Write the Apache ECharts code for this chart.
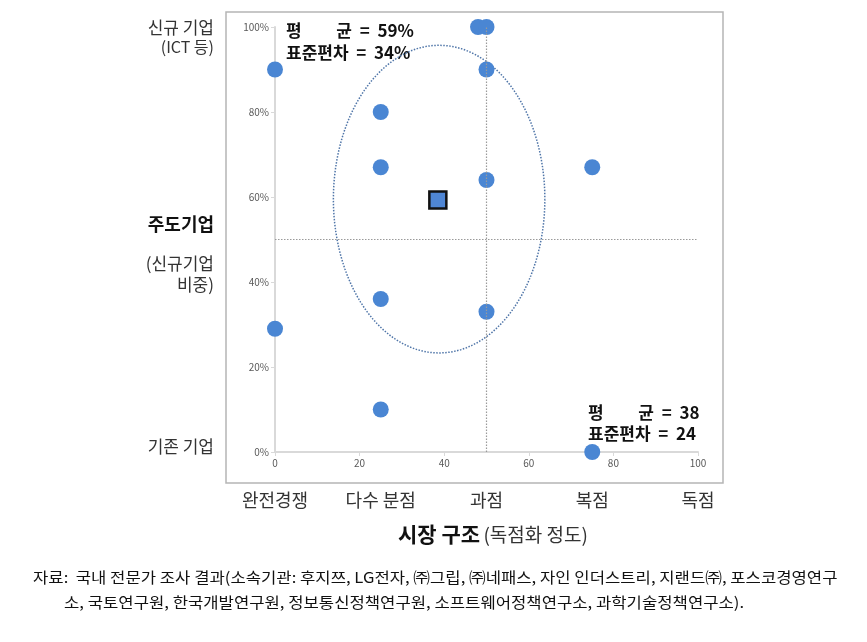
<!DOCTYPE html>
<html><head><meta charset="utf-8">
<script src="https://cdn.jsdelivr.net/npm/echarts@6/dist/echarts.min.js"></script>
<style>html,body{margin:0;padding:0;background:#fff}#c{width:867px;height:642px}</style>
</head><body><div id="c"></div>
<script>
// Data
const marketX = [0, 48, 50, 50, 25, 25, 50, 75, 25, 0, 50, 25, 75];
const newShare = [90, 100, 100, 90, 80, 67, 64, 67, 36, 29, 33, 10, 0];
const meanPoint = [38.5, 59.3];
const ellipseSpec = [38.8, 59.5, 25, 36.2]; // centerX, centerY, radiusX, radiusY
const xTicks = [0, 20, 40, 60, 80, 100];
const marketLabels = ['완전경쟁', '다수 분점', '과점', '복점', '독점'];
const refX = 50, refY = 50;

const FONT = '"Noto Sans CJK KR", "Noto Sans", sans-serif';
const pts = marketX.map((x, i) => [x, newShare[i]]);

const chart = echarts.init(document.getElementById('c'), null, {renderer: 'canvas'});
chart.setOption({
  animation: false,
  textStyle: {fontFamily: FONT},
  grid: {left: 275, right: 169, top: 27, bottom: 190, containLabel: false},
  xAxis: [{
    type: 'value', min: 0, max: 100, interval: 20,
    axisLine: {show: true, lineStyle: {color: '#d9d9d9', width: 2}},
    axisTick: {show: true, length: 4, lineStyle: {color: '#d9d9d9'}},
    axisLabel: {color: '#595959', fontSize: 10, margin: 6, fontFamily: FONT},
    splitLine: {show: false}
  }, {
    type: 'value', min: 0, max: 100, interval: 25, position: 'bottom', offset: 39,
    axisLine: {show: false}, axisTick: {show: false}, splitLine: {show: false},
    axisLabel: {color: '#333', fontSize: 18, margin: 0, fontFamily: FONT,
      showMinLabel: true, showMaxLabel: true,
      formatter: v => marketLabels[Math.round(v / 25)]}
  }],
  yAxis: {
    type: 'value', min: 0, max: 100, interval: 20,
    axisLine: {show: true, lineStyle: {color: '#d9d9d9', width: 2}},
    axisTick: {show: true, length: 4, lineStyle: {color: '#d9d9d9'}},
    axisLabel: {color: '#595959', fontSize: 10, margin: 6, formatter: '{value}%', fontFamily: FONT},
    splitLine: {show: false}
  },
  series: [
    {
      type: 'custom', silent: true, z: 1,
      data: [ellipseSpec],
      renderItem: function (params, api) {
        const c = api.coord([api.value(0), api.value(1)]);
        const s = api.size([api.value(2), api.value(3)]);
        const p = [];
        for (let k = 0; k <= 120; k++) {
          const a = k / 120 * Math.PI * 2;
          p.push([c[0] + s[0] * Math.cos(a), c[1] + s[1] * Math.sin(a)]);
        }
        return {type: 'polyline', shape: {points: p},
          style: {fill: null, stroke: '#4f75a8', lineWidth: 1.5, lineDash: [1.5, 1.5]}};
      }
    },
    {
      type: 'scatter', symbol: 'circle', symbolSize: 16, z: 3,
      itemStyle: {color: '#4a86d3', opacity: 1},
      data: pts,
      markLine: {
        silent: true, symbol: ['none', 'none'], label: {show: false},
        lineStyle: {color: '#9a9a9a', type: [1.5, 1.5], width: 1.2},
        data: [{xAxis: refX}, {yAxis: refY}]
      }
    },
    {
      type: 'scatter', symbol: 'rect', symbolSize: 17, z: 4,
      itemStyle: {color: '#4f86d4', borderColor: '#111', borderWidth: 2.5, opacity: 1},
      data: [meanPoint]
    }
  ],
  graphic: [
    {type: 'rect', shape: {x: 226, y: 12, width: 497, height: 471}, style: {fill: null, stroke: '#b5b5b5', lineWidth: 1.5}, silent: true},
    {type: 'text', left: 286, top: 22, style: {text: '평         균  =  59%', font: 'bold 17px ' + FONT, fill: '#111'}},
    {type: 'text', left: 286, top: 44, style: {text: '표준편차  =  34%', font: 'bold 17px ' + FONT, fill: '#111'}},
    {type: 'text', left: 588, top: 404, style: {text: '평         균  =  38', font: 'bold 17px ' + FONT, fill: '#111'}},
    {type: 'text', left: 588, top: 425, style: {text: '표준편차  =  24', font: 'bold 17px ' + FONT, fill: '#111'}},
    {type: 'text', right: 867 - 214, top: 19, style: {text: '신규 기업', font: '17px ' + FONT, fill: '#333', textAlign: 'right'}},
    {type: 'text', right: 867 - 214, top: 39, style: {text: '(ICT 등)', font: '16px ' + FONT, fill: '#333', textAlign: 'right'}},
    {type: 'text', right: 867 - 214, top: 215, style: {text: '주도기업', font: 'bold 18px ' + FONT, fill: '#111', textAlign: 'right'}},
    {type: 'text', right: 867 - 214, top: 255, style: {text: '(신규기업', font: '17px ' + FONT, fill: '#333', textAlign: 'right'}},
    {type: 'text', right: 867 - 214, top: 276, style: {text: '비중)', font: '17px ' + FONT, fill: '#333', textAlign: 'right'}},
    {type: 'text', right: 867 - 214, top: 438, style: {text: '기존 기업', font: '17px ' + FONT, fill: '#333', textAlign: 'right'}},
    {type: 'text', left: 398, top: 524, style: {
      text: '{b|시장 구조} {n|(독점화 정도)}',
      rich: {b: {font: 'bold 21px ' + FONT, fill: '#111'}, n: {font: '19px ' + FONT, fill: '#333'}}}},
    {type: 'text', x: 33, y: 570, scaleX: 1.11, style: {text: '자료:  국내 전문가 조사 결과(소속기관: 후지쯔, LG전자, ㈜그립, ㈜네패스, 자인 인더스트리, 지랜드㈜, 포스코경영연구', font: '15px ' + FONT, fill: '#111'}},
    {type: 'text', x: 64, y: 595, scaleX: 1.11, style: {text: '소, 국토연구원, 한국개발연구원, 정보통신정책연구원, 소프트웨어정책연구소, 과학기술정책연구소).', font: '15px ' + FONT, fill: '#111'}}
  ]
});
</script></body></html>
